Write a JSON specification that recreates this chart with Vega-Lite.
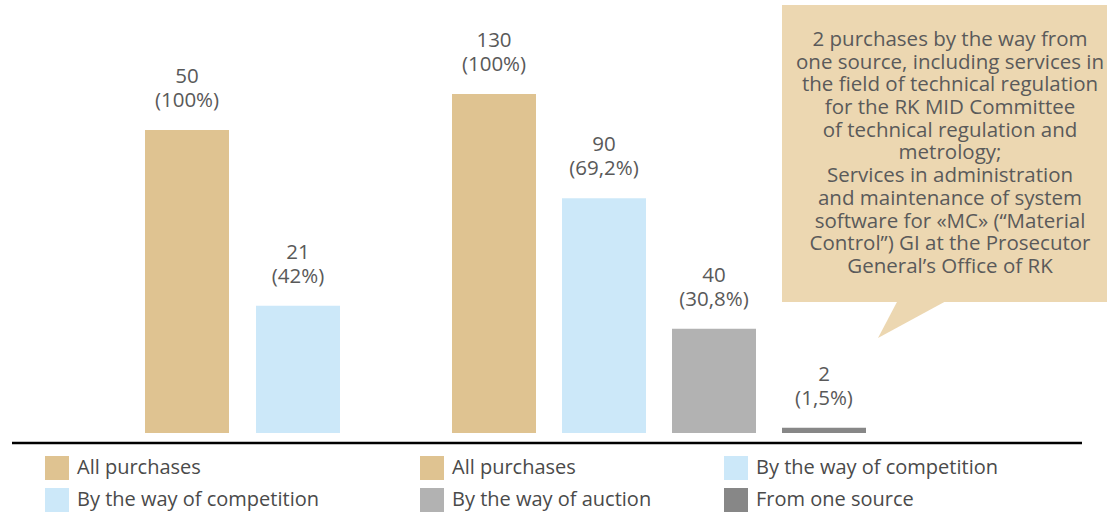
{
  "$schema": "https://vega.github.io/schema/vega-lite/v6.json",
  "width": 1107,
  "height": 514,
  "autosize": {"type": "fit", "contains": "padding"},
  "padding": 0,
  "background": "white",
  "config": {"view": {"stroke": null}, "font": "Open Sans"},
  "data": {
    "values": [
      {"group": "g1", "category": "All purchases", "count": 50, "share": "(100%)"},
      {"group": "g1", "category": "By the way of competition", "count": 21, "share": "(42%)"},
      {"group": "g2", "category": "All purchases", "count": 130, "share": "(100%)"},
      {"group": "g2", "category": "By the way of competition", "count": 90, "share": "(69,2%)"},
      {"group": "g2", "category": "By the way of auction", "count": 40, "share": "(30,8%)"},
      {"group": "g2", "category": "From one source", "count": 2, "share": "(1,5%)"}
    ]
  },
  "layer": [
    {
      "transform": [{"filter": "datum.group === 'g1'"}],
      "encoding": {
        "x": {
          "field": "category", "type": "nominal", "axis": null,
          "scale": {"domain": ["All purchases", "By the way of competition"], "range": [145, 340], "paddingInner": 0.24324, "paddingOuter": 0, "round": false}
        },
        "y": {
          "field": "count", "type": "quantitative", "axis": null,
          "scale": {"domain": [-13.366, 71.45], "nice": false}
        }
      },
      "layer": [
        {
          "mark": {"type": "bar"},
          "encoding": {
            "color": {
              "field": "category", "type": "nominal",
              "scale": {"domain": ["All purchases", "By the way of competition"], "range": ["#dfc391", "#cce8f9"]},
              "legend": {"title": null, "orient": "none", "legendX": 45, "legendY": 456, "direction": "vertical", "symbolType": "square", "symbolSize": 576, "symbolStrokeWidth": 0, "symbolOpacity": 1, "labelFontSize": 20, "labelColor": "#4a4a4a", "labelOffset": 8, "rowPadding": 8, "padding": 0, "labelLimit": 400}
            }
          }
        },
        {
          "mark": {"type": "text", "dy": -23, "baseline": "alphabetic", "fontSize": 20.5, "color": "#595959"},
          "encoding": {"text": {"field": "share", "type": "nominal"}}
        },
        {
          "mark": {"type": "text", "dy": -47, "baseline": "alphabetic", "fontSize": 20.5, "color": "#595959"},
          "encoding": {"text": {"field": "count", "type": "quantitative"}}
        }
      ]
    },
    {
      "transform": [{"filter": "datum.group === 'g2'"}],
      "encoding": {
        "x": {
          "field": "category", "type": "nominal", "axis": null,
          "scale": {"domain": ["All purchases", "By the way of competition", "By the way of auction", "From one source"], "range": [452, 866], "paddingInner": 0.23636, "paddingOuter": 0, "round": false}
        },
        "y": {
          "field": "count", "type": "quantitative", "axis": null,
          "scale": {"domain": [-31.06, 166.05], "nice": false}
        }
      },
      "layer": [
        {
          "mark": {"type": "bar"},
          "encoding": {
            "color": {
              "field": "category", "type": "nominal",
              "scale": {"domain": ["All purchases", "By the way of competition", "By the way of auction", "From one source"], "range": ["#dfc391", "#cce8f9", "#b2b2b2", "#878787"]},
              "legend": {"title": null, "orient": "none", "legendX": 420, "legendY": 456, "columns": 2, "direction": "horizontal", "columnPadding": 72, "symbolType": "square", "symbolSize": 576, "symbolStrokeWidth": 0, "symbolOpacity": 1, "labelFontSize": 20, "labelColor": "#4a4a4a", "labelOffset": 8, "rowPadding": 8, "padding": 0, "labelLimit": 400}
            }
          }
        },
        {
          "mark": {"type": "text", "dy": -23, "baseline": "alphabetic", "fontSize": 20.5, "color": "#595959"},
          "encoding": {"text": {"field": "share", "type": "nominal"}}
        },
        {
          "mark": {"type": "text", "dy": -47, "baseline": "alphabetic", "fontSize": 20.5, "color": "#595959"},
          "encoding": {"text": {"field": "count", "type": "quantitative"}}
        }
      ]
    },
    {
      "data": {"values": [{}]},
      "encoding": {
        "x": {"datum": 0, "type": "quantitative", "axis": null, "scale": {"domain": [0, 100], "nice": false, "zero": false}},
        "y": {"datum": 0, "type": "quantitative", "axis": null, "scale": {"domain": [0, 100], "nice": false, "zero": false}}
      },
      "layer": [
        {
          "mark": {"type": "rule", "color": "#000000", "strokeWidth": 2.5},
          "encoding": {"x": {"datum": 1.084}, "x2": {"datum": 97.74}, "y": {"datum": 13.813}}
        },
        {
          "mark": {"type": "point", "filled": true, "opacity": 1, "fill": "#ecd7b1", "stroke": null, "size": 6400, "shape": "M-0.375,-0.5L0.875,-0.5L-0.875,0.45Z"},
          "encoding": {"x": {"datum": 82.475}, "y": {"datum": 37.743}}
        },
        {
          "mark": {"type": "rect", "color": "#ecd7b1"},
          "encoding": {"x": {"datum": 70.64}, "x2": {"datum": 100}, "y": {"datum": 99.03}, "y2": {"datum": 41.245}}
        },
        {
          "mark": {
            "type": "text", "align": "center", "baseline": "middle", "fontSize": 20.5, "lineHeight": 22.7, "color": "#5a5a5a",
            "text": ["2 purchases by the way from", "one source, including services in", "the field of technical regulation", "for the RK MID Committee", "of technical regulation and", "metrology;", "Services in administration", "and maintenance of system", "software for «MC» (“Material", "Control”) GI at the Prosecutor", "General’s Office of RK"]
          },
          "encoding": {"x": {"datum": 85.82}, "y": {"datum": 92.22}}
        }
      ]
    }
  ],
  "resolve": {"scale": {"x": "independent", "y": "independent", "color": "independent"}}
}
